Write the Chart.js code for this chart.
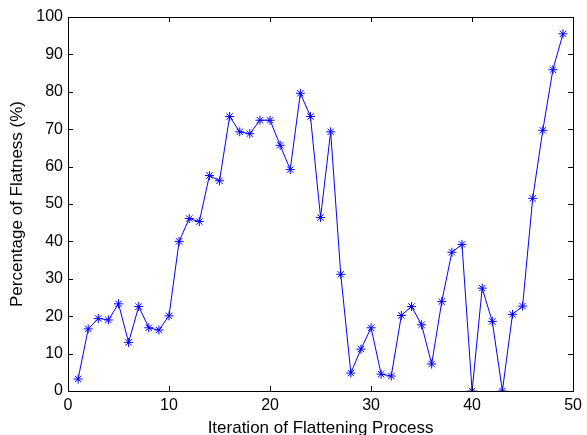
<!DOCTYPE html>
<html>
<head>
<meta charset="utf-8">
<script src="https://cdn.jsdelivr.net/npm/chart.js@4/dist/chart.umd.min.js"></script>
<style>
  html, body { margin: 0; padding: 0; background: #fff; }
  #wrap { width: 587px; height: 435px; }
</style>
</head>
<body>
<div id="wrap"><canvas id="flat"></canvas></div>
<script>
// iteration number (x) and flatness percentage (y)
const iterations = [1,2,3,4,5,6,7,8,9,10,11,12,13,14,15,16,17,18,19,20,21,22,23,24,25,
                    26,27,28,29,30,31,32,33,34,35,36,37,38,39,40,41,42,43,44,45,46,47,48,49];
const flatness = [3.2,16.6,19.4,19.0,23.3,13.0,22.6,16.9,16.3,20.1,40.0,46.1,45.3,57.6,56.2,73.4,69.3,68.8,72.4,72.4,
                  65.7,59.2,79.6,73.4,46.4,69.3,31.2,4.8,11.2,16.9,4.5,4.0,20.2,22.6,17.7,7.2,23.9,37.1,39.2,0,
                  27.5,18.6,0,20.5,22.7,51.5,69.7,85.9,95.5];
const xTicks = [0,10,20,30,40,50];
const yTicks = [0,10,20,30,40,50,60,70,80,90,100];

const points = iterations.map((it, i) => ({x: it, y: flatness[i]}));

// matlab style box with inward ticks on all four sides
const boxTicks = {
  id: 'boxTicks',
  afterDraw(chart) {
    const {ctx, chartArea: a, scales: {x, y}} = chart;
    const len = 5;
    ctx.save();
    ctx.strokeStyle = '#000';
    ctx.lineWidth = 1;
    ctx.beginPath();
    xTicks.forEach(v => {
      const px = Math.round(x.getPixelForValue(v)) + 0.5;
      ctx.moveTo(px, a.bottom); ctx.lineTo(px, a.bottom - len);
      ctx.moveTo(px, a.top); ctx.lineTo(px, a.top + len);
    });
    yTicks.forEach(v => {
      const py = Math.round(y.getPixelForValue(v)) + 0.5;
      ctx.moveTo(a.left, py); ctx.lineTo(a.left + len, py);
      ctx.moveTo(a.right, py); ctx.lineTo(a.right - len, py);
    });
    ctx.stroke();
    ctx.strokeRect(Math.round(a.left) + 0.5, Math.round(a.top) + 0.5,
                   Math.round(a.right - a.left), Math.round(a.bottom - a.top));
    ctx.restore();
  }
};

const tickFont = {family: "'Liberation Sans', Arial, sans-serif", size: 16};
const titleFont = {family: "'Liberation Sans', Arial, sans-serif", size: 17, lineHeight: 0.8};
const yTitleFont = {family: "'Liberation Sans', Arial, sans-serif", size: 17};

new Chart(document.getElementById('flat'), {
  type: 'line',
  data: {
    datasets: [{
      data: points,
      borderColor: '#0000ff',
      borderWidth: 1,
      pointStyle: 'star',
      pointRadius: 4.5,
      pointBorderColor: '#0000ff',
      pointBorderWidth: 1,
      tension: 0
    }]
  },
  options: {
    responsive: true,
    maintainAspectRatio: false,
    animation: false,
    layout: { padding: {top: 17, right: 11, left: 0, bottom: 0} },
    plugins: { legend: {display: false}, tooltip: {enabled: false} },
    scales: {
      x: {
        type: 'linear',
        min: 0, max: 50,
        afterFit(s) { s.height = 44; },
        afterBuildTicks(s) { s.ticks = xTicks.map(v => ({value: v})); },
        grid: { display: false, drawTicks: false },
        border: { display: false },
        ticks: { color: '#000', font: tickFont, padding: 5, maxRotation: 0 },
        title: { display: true, text: 'Iteration of Flattening Process', color: '#000', font: titleFont, padding: {top: 0, bottom: 0} }
      },
      y: {
        min: 0, max: 100,
        afterFit(s) { s.width = 68; },
        afterBuildTicks(s) { s.ticks = yTicks.map(v => ({value: v})); },
        grid: { display: false, drawTicks: false },
        border: { display: false },
        ticks: { color: '#000', font: tickFont, padding: 5 },
        title: { display: true, text: 'Percentage of Flatness (%)', color: '#000', font: yTitleFont, padding: {top: 7, bottom: 0} }
      }
    }
  },
  plugins: [boxTicks]
});
</script>
</body>
</html>
